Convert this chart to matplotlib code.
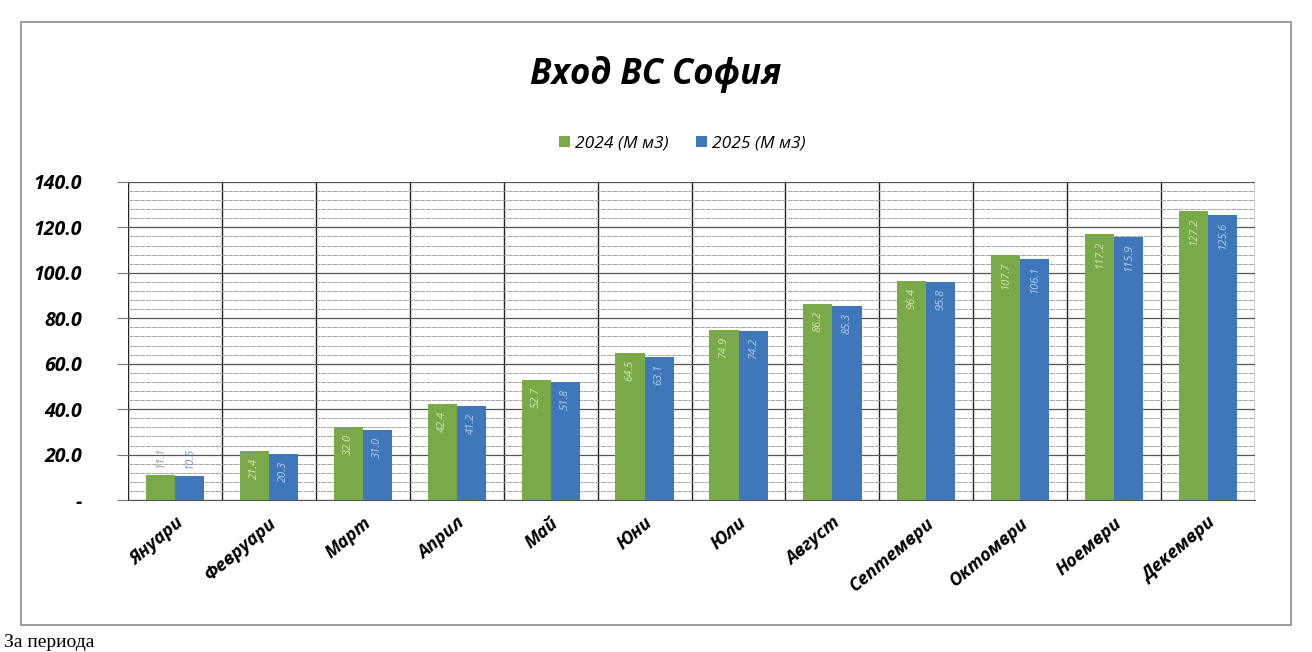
import matplotlib.pyplot as plt
from matplotlib.patches import Rectangle
import numpy as np

months = ["Януари", "Февруари", "Март", "Април", "Май", "Юни",
          "Юли", "Август", "Септември", "Октомври", "Ноември", "Декември"]
vals_2024 = [11.1, 21.4, 32.0, 42.4, 52.7, 64.5, 74.9, 86.2, 96.4, 107.7, 117.2, 127.2]
vals_2025 = [10.5, 20.3, 31.0, 41.2, 51.8, 63.1, 74.2, 85.3, 95.8, 106.1, 115.9, 125.6]
series_names = ["2024 (М м3)", "2025 (М м3)"]
y_ticks = [0, 20, 40, 60, 80, 100, 120, 140]

green = "#7aa947"
blue = "#3f78ba"
green_txt = "#d4e4be"
blue_txt = "#b4cdea"

plt.rcParams['font.family'] = ['Open Sans', 'DejaVu Sans']

fig = plt.figure(figsize=(13.12, 6.52), dpi=100)
ax = fig.add_axes([0.0976, 0.233, 0.859, 0.488])

x = np.arange(len(months))
w = 0.31
b1 = ax.bar(x - w / 2, vals_2024, w, color=green, label=series_names[0], zorder=3)
b2 = ax.bar(x + w / 2, vals_2025, w, color=blue, label=series_names[1], zorder=3)

# value labels, rotated like the excel ones
for bars, vals, tc, oc in [(b1, vals_2024, green_txt, "#8a9a9a"), (b2, vals_2025, blue_txt, "#6f93c0")]:
    for rect, v in zip(bars, vals):
        cx = rect.get_x() + rect.get_width() / 2
        if v > 15:
            ax.text(cx, v - 3, f"{v:.1f}", rotation=90, ha="center", va="top",
                    fontsize=8, color=tc, style="italic", zorder=4)
        else:
            ax.text(cx, v + 3, f"{v:.1f}", rotation=90, ha="center", va="bottom",
                    fontsize=8, color=oc, style="italic", zorder=4)

ax.set_xlim(-0.5, len(months) - 0.5)
ax.set_ylim(0, 140)
ax.set_yticks(y_ticks)
ax.set_yticklabels(["-" if t == 0 else f"{t:.1f}" for t in y_ticks],
                   fontsize=14, fontweight="bold", style="italic")
ax.set_yticks(np.arange(0, 141, 4), minor=True)
ax.grid(axis="y", which="major", color="#555555", lw=0.9, zorder=0)
ax.grid(axis="y", which="minor", color="#9a9a9a", lw=0.6, ls=(0, (6, 1)), zorder=0)
ax.tick_params(axis="y", which="major", length=8, color="#777777", pad=25)
ax.tick_params(axis="y", which="minor", length=0)

# category separators
for b in np.arange(-0.5, len(months), 1.0):
    ax.axvline(b, color="#222222", lw=1.0, zorder=1)

ax.set_xticks(x)
ax.set_xticklabels(months, rotation=40, ha="right", rotation_mode="anchor",
                   fontsize=13, fontweight="bold", style="italic")
ax.tick_params(axis="x", length=0, pad=10)

for s in ax.spines.values():
    s.set_visible(False)
ax.spines["bottom"].set_visible(True)
ax.spines["bottom"].set_color("#555555")

fig.text(0.5, 0.885, "Вход ВС София", ha="center", va="center",
         fontsize=25, fontweight="bold", style="italic")
fig.legend(loc="center", bbox_to_anchor=(0.52, 0.78), ncol=2, frameon=False,
           handlelength=0.6, handleheight=0.6, handletextpad=0.3, columnspacing=1.6,
           prop={"size": 12.5, "style": "italic"})

fig.patches.append(Rectangle((0.016, 0.042), 0.968, 0.925, transform=fig.transFigure,
                             fill=False, ec="#8a8a8a", lw=1.2))
fig.text(0.003, 0.002, "За периода", ha="left", va="bottom", fontsize=14,
         family="Liberation Serif")

fig.savefig("out.png", dpi=100)
